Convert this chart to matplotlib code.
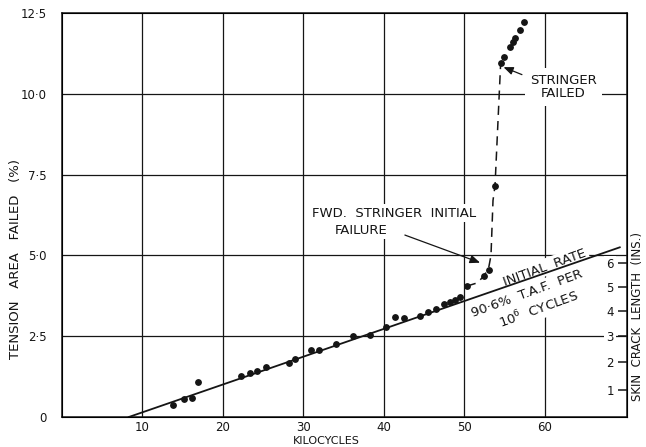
import matplotlib
matplotlib.use("Agg")
import matplotlib.pyplot as plt

plt.rcParams["font.family"] = ["DejaVu Sans"]

# measured points (kilocycles, % tension area failed)
kc = [13.8, 15.1, 16.1, 16.9, 22.3, 23.4, 24.2, 25.3, 28.2, 29.0, 30.9, 31.9,
      34.0, 36.2, 38.3, 40.3, 41.4, 42.5, 44.5, 45.5, 46.5, 47.5, 48.2, 48.8,
      49.5, 50.3, 52.4, 53.0, 53.8, 54.5, 54.9, 55.6, 56.0, 56.3, 56.9, 57.4]
taf = [0.37, 0.56, 0.58, 1.07, 1.28, 1.35, 1.41, 1.56, 1.66, 1.78, 2.07, 2.07,
       2.25, 2.52, 2.54, 2.79, 3.08, 3.05, 3.13, 3.24, 3.33, 3.49, 3.57, 3.62,
       3.72, 4.05, 4.36, 4.55, 7.15, 10.94, 11.15, 11.46, 11.61, 11.72, 11.97, 12.23]

# dashed faired curve after stringer failure
curve_kc = [50.3, 51.6, 52.4, 53.0, 53.3, 53.55, 53.8, 54.5]
curve_taf = [4.05, 4.15, 4.36, 4.6, 5.0, 6.7, 7.15, 10.94]

# initial rate line
rate_kc = [8.3, 69.3]
rate_taf = [0.0, 5.25]

xticks = [10, 20, 30, 40, 50, 60]
yticks = [0, 2.5, 5.0, 7.5, 10.0, 12.5]
ylabels = ["0", "2·5", "5·0", "7·5", "10·0", "12·5"]

# skin crack length scale (inches) and its position on the % scale
crack_in = [1, 2, 3, 4, 5, 6]
crack_pos = [0.84, 1.70, 2.51, 3.28, 4.02, 4.76]

ink = "#151515"

fig = plt.figure(figsize=(6.46, 4.47), dpi=100)
ax = fig.add_axes([0.096, 0.0671, 0.8746, 0.9038])
ax.set_xlim(0, 70.2)
ax.set_ylim(0, 12.5)

for x in xticks:
    ax.axvline(x, color=ink, lw=0.9, zorder=1)
for y in yticks[1:-1]:
    ax.axhline(y, color=ink, lw=0.9, zorder=1)

ax.plot(rate_kc, rate_taf, color=ink, lw=1.3, zorder=6)
ax.plot(curve_kc, curve_taf, color=ink, lw=1.1, ls=(0, (6, 4)), zorder=3)
ax.plot(kc, taf, "o", color=ink, ms=3.9, zorder=7)

ax.set_xticks(xticks)
ax.set_yticks(yticks)
ax.set_yticklabels(ylabels)
ax.tick_params(length=0, labelsize=8.5, colors=ink)
ax.tick_params(axis="y", pad=11)
ax.tick_params(axis="x", pad=3)
for s in ax.spines.values():
    s.set_color(ink)
    s.set_linewidth(1.1)

ax2 = ax.twinx()
ax2.set_ylim(0, 12.5)
ax2.set_yticks(crack_pos)
ax2.set_yticklabels([str(c) for c in crack_in])
ax2.tick_params(axis="y", direction="in", length=6.5, width=1.1, pad=-9.5,
                labelsize=8.5, colors=ink)
for lab in ax2.get_yticklabels():
    lab.set_horizontalalignment("right")
    lab.set_bbox(dict(facecolor="white", edgecolor="none", pad=1.5))

tf = ax.transAxes
ax.text(-0.082, 0.39, "TENSION   AREA   FAILED   (%)", transform=tf, rotation=90,
        ha="center", va="center", fontsize=9.5, color=ink)
ax.text(1.019, 0.25, "SKIN  CRACK  LENGTH  (INS.)", transform=tf, rotation=90,
        ha="center", va="center", fontsize=8.5, color=ink, clip_on=False)
ax.text(0.467, -0.06, "KILOCYCLES", transform=tf, ha="center", va="center",
        fontsize=8, color=ink)

box = dict(facecolor="white", edgecolor="none", pad=1.5)
head = "-|>,head_length=0.6,head_width=0.25"
ax.annotate("STRINGER\nFAILED", xy=(54.7, 10.84), xytext=(62.3, 10.21),
            ha="center", va="center", fontsize=9.5, color=ink, linespacing=1.0,
            bbox=dict(facecolor="white", edgecolor="none", pad=4),
            arrowprops=dict(arrowstyle=head, color=ink, lw=0.9, shrinkA=2,
                            shrinkB=1, relpos=(0.0, 0.85)), zorder=5)
ax.annotate("", xy=(52.1, 4.76), xytext=(42.6, 5.63),
            arrowprops=dict(arrowstyle=head, color=ink, lw=0.9,
                            shrinkA=0, shrinkB=1), zorder=5)
ax.text(31.1, 6.31, "FWD.  STRINGER  INITIAL", ha="left", va="center",
        fontsize=9.5, color=ink, bbox=box, zorder=5)
ax.text(33.9, 5.78, "FAILURE", ha="left", va="center",
        fontsize=9.5, color=ink, bbox=box, zorder=5)

ax.text(60.0, 4.63, "INITIAL  RATE", rotation=20, ha="center", va="center",
        fontsize=9.5, color=ink, bbox=box, zorder=5)
ax.text(57.8, 3.82, "90·6%  T.A.F.  PER", rotation=20, ha="center", va="center",
        fontsize=9.5, color=ink, bbox=box, zorder=5)
ax.text(59.2, 3.34, r"10$^{6}$  CYCLES", rotation=20, ha="center", va="center",
        fontsize=9.5, color=ink, bbox=box, zorder=5)

fig.savefig("out.png", dpi=100)
